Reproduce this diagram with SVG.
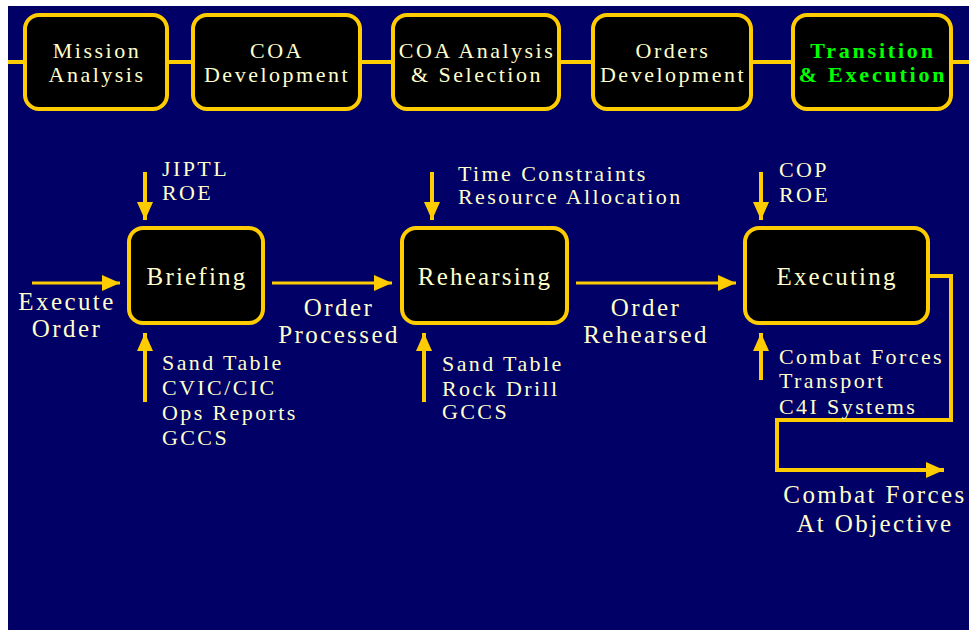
<svg xmlns="http://www.w3.org/2000/svg" width="969" height="630" viewBox="0 0 969 630">
  <style>
    .box { fill: #000000; stroke: #FFCC00; stroke-width: 4; }
    .phase { font-family: "Liberation Serif", "Times New Roman", serif; font-size: 22px; letter-spacing: 2.5px; fill: #FFFFCC; text-anchor: middle; }
    .phase.active { fill: #00FF00; font-weight: bold; letter-spacing: 2.8px; }
    .step { font-family: "Liberation Serif", "Times New Roman", serif; font-size: 25px; letter-spacing: 2.2px; fill: #FFFFCC; text-anchor: middle; }
    .lbl { font-family: "Liberation Serif", "Times New Roman", serif; font-size: 22px; letter-spacing: 2.4px; fill: #FFFFCC; }
    .flowlbl { font-family: "Liberation Serif", "Times New Roman", serif; font-size: 25px; letter-spacing: 2.4px; fill: #FFFFCC; text-anchor: middle; }
    .flow { fill: none; stroke: #FFCC00; stroke-width: 3; }
    .feed { fill: none; stroke: #FFCC00; stroke-width: 4; }
  </style>
  <defs>
    <marker id="head" viewBox="0 0 18 16" refX="18" refY="8" markerWidth="18" markerHeight="16" markerUnits="userSpaceOnUse" orient="auto">
      <path d="M0,0 L18,8 L0,16 z" fill="#FFCC00"/>
    </marker>
  </defs>

  <!-- backdrop -->
  <rect x="8" y="6" width="961" height="624" fill="#000066"/>

  <!-- phase bar -->
  <g id="phase-bar">
    <line x1="8" y1="62" x2="969" y2="62" stroke="#FFCC00" stroke-width="4"/>
  </g>
  <g id="phase-mission-analysis">
    <rect class="box" x="25" y="15" width="142" height="94" rx="14"/>
    <text class="phase" x="97" y="58">Mission</text>
    <text class="phase" x="97" y="82">Analysis</text>
  </g>
  <g id="phase-coa-development">
    <rect class="box" x="193" y="15" width="167" height="94" rx="14"/>
    <text class="phase" x="277" y="58">COA</text>
    <text class="phase" x="277" y="82">Development</text>
  </g>
  <g id="phase-coa-analysis">
    <rect class="box" x="393" y="15" width="166" height="94" rx="14"/>
    <text class="phase" x="477" y="58">COA Analysis</text>
    <text class="phase" x="477" y="82">&amp; Selection</text>
  </g>
  <g id="phase-orders-development">
    <rect class="box" x="593" y="15" width="158" height="94" rx="14"/>
    <text class="phase" x="673" y="58">Orders</text>
    <text class="phase" x="673" y="82">Development</text>
  </g>
  <g id="phase-transition-execution">
    <rect class="box" x="793" y="15" width="158" height="94" rx="14"/>
    <text class="phase active" x="873" y="58">Transition</text>
    <text class="phase active" x="873" y="82">&amp; Execution</text>
  </g>

  <!-- process steps -->
  <g id="step-briefing">
    <rect class="box" x="129" y="228" width="134" height="95" rx="14"/>
    <text class="step" x="197" y="285">Briefing</text>
  </g>
  <g id="step-rehearsing">
    <rect class="box" x="402" y="228" width="165" height="95" rx="14"/>
    <text class="step" x="485" y="285">Rehearsing</text>
  </g>
  <g id="step-executing">
    <rect class="box" x="745" y="228" width="183" height="95" rx="14"/>
    <text class="step" x="837" y="285">Executing</text>
  </g>

  <!-- connectors -->
  <g id="connectors">
    <line class="flow" x1="32" y1="283" x2="120" y2="283" marker-end="url(#head)"/>
    <line class="flow" x1="272" y1="283" x2="392" y2="283" marker-end="url(#head)"/>
    <line class="flow" x1="576" y1="283" x2="736" y2="283" marker-end="url(#head)"/>

    <line class="feed" x1="145" y1="172" x2="145" y2="220" marker-end="url(#head)"/>
    <line class="feed" x1="145" y1="402" x2="145" y2="333" marker-end="url(#head)"/>
    <line class="feed" x1="432" y1="172" x2="432" y2="220" marker-end="url(#head)"/>
    <line class="feed" x1="424" y1="402" x2="424" y2="333" marker-end="url(#head)"/>
    <line class="feed" x1="761" y1="172" x2="761" y2="220" marker-end="url(#head)"/>
    <line class="feed" x1="761" y1="380" x2="761" y2="333" marker-end="url(#head)"/>

    <path class="feed" d="M930,276 H951 V420 H777 V470 H944" marker-end="url(#head)"/>
  </g>

  <!-- labels -->
  <g id="labels">
    <text class="flowlbl" x="67" y="310">Execute</text>
    <text class="flowlbl" x="67" y="337">Order</text>

    <text class="lbl" x="162" y="176">JIPTL</text>
    <text class="lbl" x="162" y="200">ROE</text>

    <text class="flowlbl" x="339" y="316">Order</text>
    <text class="flowlbl" x="339" y="343">Processed</text>

    <text class="lbl" x="162" y="370">Sand Table</text>
    <text class="lbl" x="162" y="395">CVIC/CIC</text>
    <text class="lbl" x="162" y="420">Ops Reports</text>
    <text class="lbl" x="162" y="445">GCCS</text>

    <text class="lbl" x="458" y="181" letter-spacing="2">Time Constraints</text>
    <text class="lbl" x="458" y="204" letter-spacing="2">Resource Allocation</text>

    <text class="lbl" x="442" y="371">Sand Table</text>
    <text class="lbl" x="442" y="396">Rock Drill</text>
    <text class="lbl" x="442" y="419">GCCS</text>

    <text class="flowlbl" x="646" y="316">Order</text>
    <text class="flowlbl" x="646" y="343">Rehearsed</text>

    <text class="lbl" x="779" y="177">COP</text>
    <text class="lbl" x="779" y="202">ROE</text>

    <text class="lbl" x="779" y="364">Combat Forces</text>
    <text class="lbl" x="779" y="388">Transport</text>
    <text class="lbl" x="779" y="414">C4I Systems</text>

    <text class="flowlbl" x="875" y="503">Combat Forces</text>
    <text class="flowlbl" x="875" y="532">At Objective</text>
  </g>
</svg>
